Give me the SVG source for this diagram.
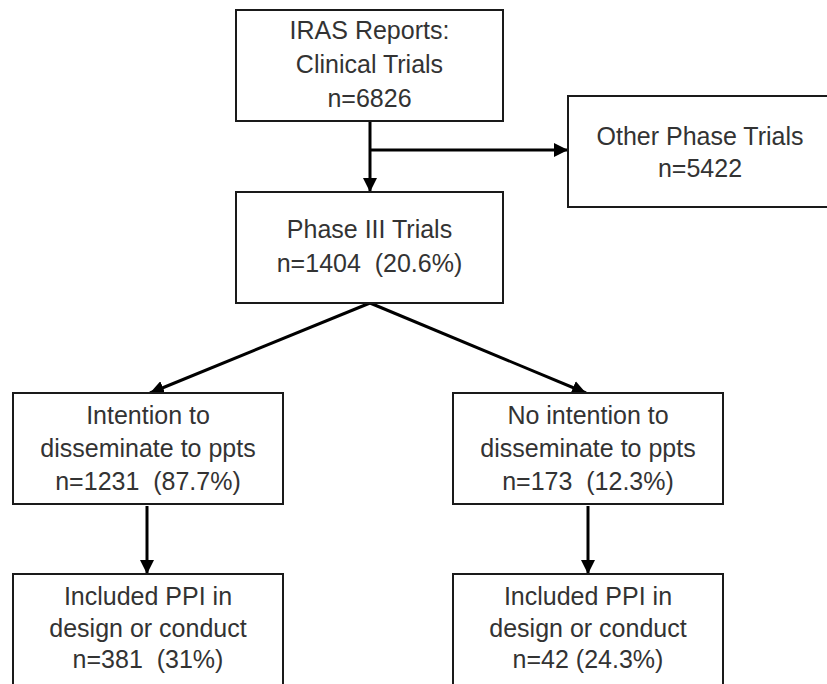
<svg xmlns="http://www.w3.org/2000/svg" width="827" height="684" viewBox="0 0 827 684">
<defs>
<marker id="ah" markerUnits="userSpaceOnUse" markerWidth="16" markerHeight="14" refX="14" refY="7" orient="auto">
<path d="M0,0 L14,7 L0,14 Z" fill="#000"/>
</marker>
<style>
.box{fill:#fff;stroke:#1a1a1a;stroke-width:2}
.t{font-family:"Liberation Sans",Arial,sans-serif;font-size:25px;fill:#333;text-anchor:middle;white-space:pre}
.c{stroke:#000;stroke-width:3;fill:none}
</style>
</defs>
<rect width="827" height="684" fill="#fff"/>
<g id="connectors">
<line class="c" x1="370" y1="121" x2="370" y2="192" marker-end="url(#ah)"/>
<line class="c" x1="370" y1="150" x2="568" y2="150" marker-end="url(#ah)"/>
<line class="c" x1="370" y1="303" x2="150" y2="393" marker-end="url(#ah)"/>
<line class="c" x1="370" y1="303" x2="586" y2="393" marker-end="url(#ah)"/>
<line class="c" x1="147" y1="506" x2="147" y2="574" marker-end="url(#ah)"/>
<line class="c" x1="588" y1="506" x2="588" y2="574" marker-end="url(#ah)"/>
</g>
<g id="iras">
<rect class="box" x="236" y="10" width="267" height="111"/>
<text class="t" x="369.5" y="39">IRAS Reports:</text>
<text class="t" x="369.5" y="73">Clinical Trials</text>
<text class="t" x="369.5" y="107">n=6826</text>
</g>
<g id="other">
<rect class="box" x="568" y="96" width="290" height="111"/>
<text class="t" x="700" y="145">Other Phase Trials</text>
<text class="t" x="700" y="177">n=5422</text>
</g>
<g id="phase3">
<rect class="box" x="236" y="192" width="267" height="111"/>
<text class="t" x="369.5" y="238">Phase III Trials</text>
<text class="t" x="369.5" y="272">n=1404  (20.6%)</text>
</g>
<g id="intention">
<rect class="box" x="13" y="393" width="270" height="111"/>
<text class="t" x="148" y="424">Intention to</text>
<text class="t" x="148" y="457">disseminate to ppts</text>
<text class="t" x="148" y="490">n=1231  (87.7%)</text>
</g>
<g id="nointention">
<rect class="box" x="453" y="393" width="270" height="111"/>
<text class="t" x="588" y="424">No intention to</text>
<text class="t" x="588" y="457">disseminate to ppts</text>
<text class="t" x="588" y="490">n=173  (12.3%)</text>
</g>
<g id="ppi-left">
<rect class="box" x="13" y="574" width="270" height="130"/>
<text class="t" x="148" y="605">Included PPI in</text>
<text class="t" x="148" y="637">design or conduct</text>
<text class="t" x="148" y="668">n=381  (31%)</text>
</g>
<g id="ppi-right">
<rect class="box" x="453" y="574" width="270" height="130"/>
<text class="t" x="588" y="605">Included PPI in</text>
<text class="t" x="588" y="637">design or conduct</text>
<text class="t" x="588" y="668">n=42 (24.3%)</text>
</g>
</svg>
